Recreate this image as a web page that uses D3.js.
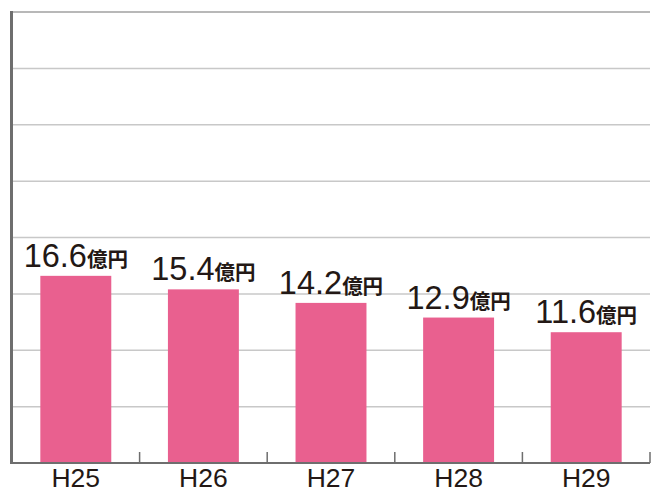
<!DOCTYPE html>
<html>
<head>
<meta charset="utf-8">
<script src="https://cdn.jsdelivr.net/npm/d3@7"></script>
<style>
  body { margin: 0; background: #fff; }
  svg { display: block; }
</style>
</head>
<body>
<figure id="chart" style="margin:0"></figure>
<script>
// data
const years = ["H25", "H26", "H27", "H28", "H29"];
const amounts = [16.6, 15.4, 14.2, 12.9, 11.6];
const unit = "億円";
const gridValues = [5, 10, 15, 20, 25, 30, 35, 40];

const width = 651, height = 488;
const plotLeft = 12, plotRight = 650, plotTop = 12, plotBottom = 463;

const svg = d3.select("figure#chart")
  .append("svg")
  .attr("width", width)
  .attr("height", height);

// x band scale
const x = d3.scaleBand()
  .domain(years)
  .range([plotLeft, plotRight])
  .paddingInner(0.444)
  .paddingOuter(0.222);

// y linear scale
const y = d3.scaleLinear()
  .domain([0, 40])
  .range([plotBottom, plotTop]);

// gridlines
svg.append("g")
  .selectAll("line")
  .data(gridValues)
  .enter()
  .append("line")
  .attr("x1", plotLeft)
  .attr("x2", plotRight)
  .attr("y1", d => y(d))
  .attr("y2", d => y(d))
  .attr("stroke", d => d === 40 ? "#a0a0a0" : "#c8c8c8")
  .attr("stroke-width", 1.5);

// bars
svg.selectAll("bars")
  .data(years)
  .enter()
  .append("rect")
  .attr("x", d => x(d))
  .attr("y", (d, i) => y(amounts[i]))
  .attr("width", x.bandwidth())
  .attr("height", (d, i) => plotBottom - y(amounts[i]))
  .attr("fill", "#e9608f");

// value labels
const labels = svg.selectAll("labels")
  .data(years)
  .enter()
  .append("text")
  .attr("x", d => x(d) + x.bandwidth() / 2)
  .attr("y", (d, i) => y(amounts[i]) - 9)
  .attr("text-anchor", "middle")
  .attr("fill", "#231815");
labels.append("tspan")
  .attr("font-family", "'Liberation Sans', Arial, Helvetica, sans-serif")
  .attr("font-size", 32.5)
  .text((d, i) => amounts[i].toFixed(1));
labels.append("tspan")
  .attr("font-family", "'Noto Sans CJK JP', sans-serif")
  .attr("font-size", 20.5)
  .attr("font-weight", 700)
  .text(unit);

// left axis line
svg.append("line")
  .attr("x1", 11.5).attr("x2", 11.5)
  .attr("y1", plotTop - 1).attr("y2", plotBottom + 1)
  .attr("stroke", "#6e6e6e")
  .attr("stroke-width", 3);

// bottom axis with inner ticks at category boundaries
const bottomAxis = svg.append("g")
  .attr("transform", "translate(0," + plotBottom + ")");
bottomAxis.append("line")
  .attr("x1", plotLeft).attr("x2", plotRight)
  .attr("stroke", "#6e6e6e")
  .attr("stroke-width", 2);
bottomAxis.selectAll("ticks")
  .data(years)
  .enter()
  .append("line")
  .attr("x1", d => x(d) + x.bandwidth() + x.step() * 0.222)
  .attr("x2", d => x(d) + x.bandwidth() + x.step() * 0.222)
  .attr("y1", 0)
  .attr("y2", -11)
  .attr("stroke", "#6e6e6e")
  .attr("stroke-width", 1.5);

bottomAxis.selectAll("labels")
  .data(years)
  .enter()
  .append("text")
  .attr("x", d => x(d) + x.bandwidth() / 2)
  .attr("y", 24)
  .attr("text-anchor", "middle")
  .attr("font-family", "'Liberation Sans', Arial, Helvetica, sans-serif")
  .attr("font-size", 26.5)
  .attr("fill", "#231815")
  .text(d => d);
</script>
</body>
</html>
